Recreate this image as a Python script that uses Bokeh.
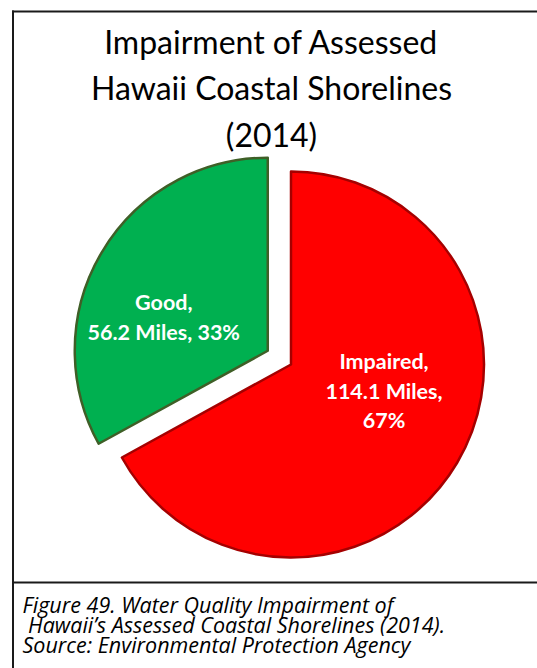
import math
from bokeh.plotting import figure
from bokeh.models import Range1d
from bokeh.core.properties import value
from bokeh.embed import file_html
from bokeh.resources import INLINE

# ---- data ----
categories = ["Impaired", "Good"]
miles = [114.1, 56.2]
fill_colors = ["#FF0000", "#00B050"]
line_colors = ["#A50000", "#3F5F27"]
title_lines = ["Impairment of Assessed", "Hawaii Coastal Shorelines", "(2014)"]
caption_lines = ["Figure 49. Water Quality Impairment of",
                 "\u00a0Hawaii\u2019s Assessed Coastal Shorelines (2014).",
                 "Source: Environmental Protection Agency"]

# ---- layout (page pixel coordinates, y measured from page top) ----
W, H = 537, 668


def Y(py):
    return H - py


p = figure(width=W, height=H, output_backend="svg", toolbar_location=None,
           x_range=Range1d(0, W), y_range=Range1d(0, H), min_border=0)
p.axis.visible = False
p.grid.visible = False
p.outline_line_color = None
p.background_fill_color = "white"
p.border_fill_color = "white"

# frame box
p.line([12.5, 12.5], [Y(10), Y(700)], line_color="#1a1a1a", line_width=2)
p.line([11.5, 560], [Y(11), Y(11)], line_color="#1a1a1a", line_width=2)
p.line([12.5, 560], [Y(582), Y(582)], line_color="#1a1a1a", line_width=2)

# title
title_centers = [41.5, 87.5, 135]
for t, c in zip(title_lines, title_centers):
    p.text(x=[271], y=[Y(c - 1)], text=[t], text_font=value("Lato"),
           text_font_size="32px", text_color="black", text_align="center",
           text_baseline="middle")

# pie
total = sum(miles)
fracs = [m / total for m in miles]
cx, cy = 290.5, 364.0
R = 193.0
explode = [0.0, 27.0]
label_offsets = [(93.0, 26.0), (-104.0, -34.0)]
label_lines = [[f"{c},", f"{m} Miles,", f"{round(f*100)}%"] if c == "Impaired"
               else [f"{c},", f"{m} Miles, {round(f*100)}%"]
               for c, m, f in zip(categories, miles, fracs)]

cum = 0.0
for i, f in enumerate(fracs):
    a0 = cum
    a1 = cum + f
    mid = (a0 + a1) / 2 * 2 * math.pi
    dx = explode[i] * math.sin(mid)
    dy = explode[i] * math.cos(mid)   # upward positive
    scx = cx + dx
    scy = Y(cy) + dy
    start = math.pi / 2 - a1 * 2 * math.pi
    end = math.pi / 2 - a0 * 2 * math.pi
    p.wedge(x=[scx], y=[scy], radius=R, start_angle=start, end_angle=end,
            fill_color=fill_colors[i], line_color=line_colors[i], line_width=2.5,
            line_join="round")
    lx = scx + label_offsets[i][0]
    lyc = scy - label_offsets[i][1]
    lines = label_lines[i]
    spacing = 29.5
    n = len(lines)
    for k, ln in enumerate(lines):
        yy = lyc + (n - 1) / 2 * spacing - k * spacing
        p.text(x=[lx], y=[yy], text=[ln], text_font=value("Lato"),
               text_font_size="21.5px", text_font_style="bold", text_color="white",
               text_align="center", text_baseline="middle")
    cum = a1

# caption
cap_centers = [605, 625, 645]
for t, c in zip(caption_lines, cap_centers):
    p.text(x=[22], y=[Y(c - 1)], text=[t], text_font=value("Open Sans"),
           text_font_size="21.5px", text_font_style="italic", text_color="black",
           text_align="left", text_baseline="middle")

open("out.html", "w").write(file_html(p, INLINE))
